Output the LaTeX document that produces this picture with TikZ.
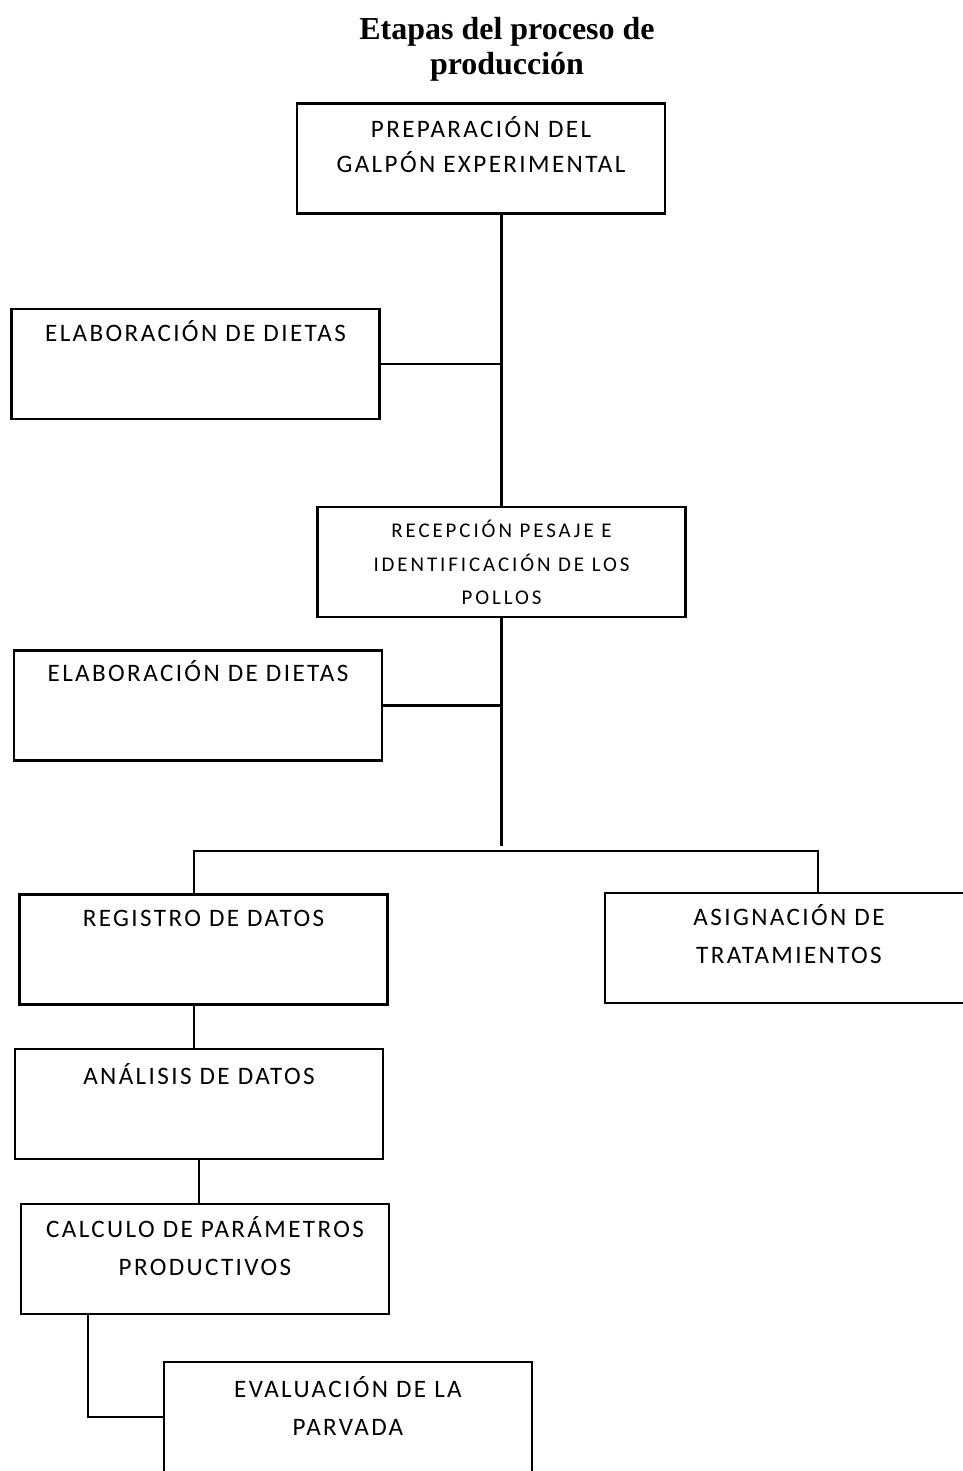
\documentclass[tikz,border=0pt]{standalone}
\usepackage{fontspec}
\setmainfont{Liberation Serif}
\newfontfamily\boxfont[LetterSpace=9.5]{Carlito}
\newfontfamily\smallboxfont[LetterSpace=14]{Carlito}
\usetikzlibrary{positioning}

\begin{document}
\begin{tikzpicture}[
    x=0.02cm, y=-0.02cm,
    line width=1.2pt,
    stagebox/.style={
        rectangle,
        draw,
        minimum width=7.36cm,
        minimum height=2.2cm,
        inner sep=0pt
    },
    boxtext/.style={
        anchor=north,
        inner sep=0pt,
        yshift=-5pt,
        align=center,
        font=\fontsize{14.3}{21.5}\selectfont\boxfont,
        execute at begin node=\strut
    },
    tighttext/.style={
        boxtext,
        yshift=-2.5pt,
        font=\fontsize{14.3}{19.8}\selectfont\boxfont
    },
    smalltext/.style={
        boxtext,
        yshift=-2.5pt,
        font=\fontsize{11.9}{19}\selectfont\smallboxfont
    },
    heading/.style={
        anchor=north,
        inner sep=0pt,
        align=center,
        font=\fontsize{18.2}{19.8}\selectfont\bfseries,
        execute at begin node=\strut
    }
]
\useasboundingbox (0,0) rectangle (963,1471);

\node[heading] (titulo) at (507,16) {Etapas del proceso de\\producción};

\node[stagebox, label={[tighttext]north:{PREPARACIÓN DEL\\GALPÓN EXPERIMENTAL}}] (galpon) at (481,158.5) {};
\node[stagebox, label={[boxtext, yshift=1.7pt]north:{ELABORACIÓN DE DIETAS}}] (dietasA) at (195.5,364) {};
\node[stagebox, label={[smalltext]north:{RECEPCIÓN PESAJE E\\IDENTIFICACIÓN DE LOS\\POLLOS}}] (recepcion) at (501.5,562) {};
\node[stagebox, label={[boxtext, yshift=2.2pt]north:{ELABORACIÓN DE DIETAS}}] (dietasB) at (198,705.5) {};
\node[stagebox, label={[boxtext, yshift=1.7pt]north:{REGISTRO DE DATOS}}] (registro) at (203.5,949.5) {};
\node[stagebox, label={[boxtext, yshift=-1.7pt]north:{ASIGNACIÓN DE\\TRATAMIENTOS}}] (asignacion) at (789,948) {};
\node[stagebox, label={[boxtext]north:{ANÁLISIS DE DATOS}}] (analisis) at (199,1104) {};
\node[stagebox, label={[boxtext, yshift=-2.2pt]north:{CALCULO DE PARÁMETROS\\PRODUCTIVOS}}] (calculo) at (205,1259) {};
\node[stagebox, label={[boxtext, yshift=-3.4pt]north:{EVALUACIÓN DE LA\\PARVADA}}] (evaluacion) at (348,1417) {};

\coordinate (split) at (503,846);
\coordinate (busL) at (194,851);
\coordinate (busR) at (818,851);
\coordinate (bend) at (88,1417);

\draw (galpon.south -| recepcion.north) -- (recepcion.north);
\draw (dietasA.east) -- (dietasA.east -| recepcion.north);
\draw (recepcion.south) -- (recepcion.south |- split);
\draw (dietasB.east) -- (dietasB.east -| recepcion.south);
\draw (busL |- registro.north) -- (busL) -- (busR) -- (busR |- asignacion.north);
\draw (busL |- registro.south) -- (busL |- analisis.north);
\draw (analisis.south) -- (analisis.south |- calculo.north);
\draw (bend |- calculo.south) -- (bend) -- (evaluacion.west);

\end{tikzpicture}
\end{document}
